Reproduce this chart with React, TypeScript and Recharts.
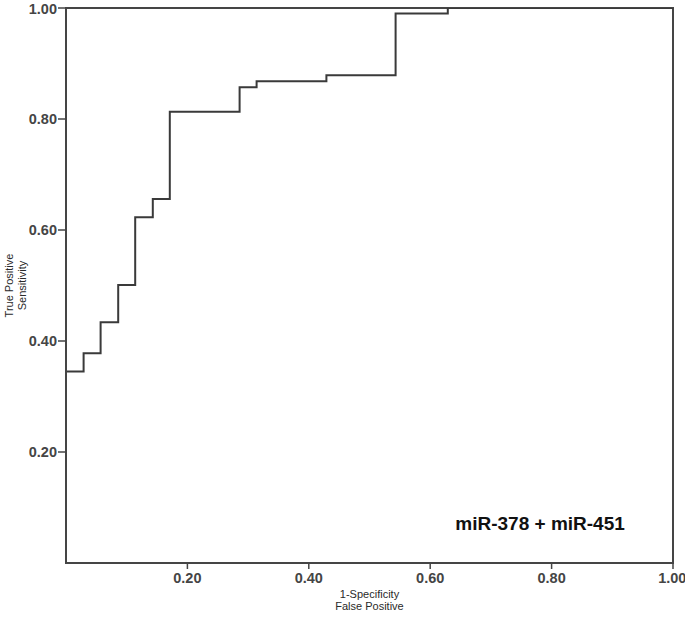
import React from "react";
import {
  LineChart,
  Line,
  XAxis,
  YAxis,
  ReferenceArea,
  ReferenceDot,
  Label,
} from "recharts";

// ROC curve points (1 - specificity, sensitivity)
const fpr = [0, 0, 0.029, 0.057, 0.086, 0.114, 0.143, 0.171, 0.286, 0.314, 0.429, 0.543, 0.629, 1.0];
const tpr = [0, 0.345, 0.378, 0.434, 0.501, 0.623, 0.656, 0.813, 0.857, 0.868, 0.879, 0.99, 1.0, 1.0];
const axisTicks = [0.2, 0.4, 0.6, 0.8, 1.0];
const xTitle = ["1-Specificity", "False Positive"];
const yTitle = ["True Positive", "Sensitivity"];
const caption = "miR-378 + miR-451";

const data = fpr.map((x, i) => ({ fpr: x, tpr: tpr[i] }));

const INK = "#454545";
const tickStyle = { fontSize: 14.5, fontWeight: "bold", fill: INK };

const XTitle = (props: any) => {
  const { x, y, width } = props.viewBox;
  const cx = x + width / 2;
  return (
    <text textAnchor="middle" fontSize={11} fill="#2a2a2a">
      <tspan x={cx} y={y + 35}>{xTitle[0]}</tspan>
      <tspan x={cx} dy={11.5}>{xTitle[1]}</tspan>
    </text>
  );
};

const YTitle = (props: any) => {
  const { y, height } = props.viewBox;
  const cx = 12.5;
  const cy = y + height / 2;
  return (
    <text textAnchor="middle" fontSize={11} fill="#2a2a2a" transform={`rotate(-90, ${cx}, ${cy})`}>
      <tspan x={cx} y={cy}>{yTitle[0]}</tspan>
      <tspan x={cx} dy={13.5}>{yTitle[1]}</tspan>
    </text>
  );
};

export default function App() {
  return (
    <div style={{ position: "absolute", left: 0, top: 0, fontFamily: "'Liberation Sans', Arial, sans-serif" }}>
      <LineChart
        width={685}
        height={620}
        data={data}
        margin={{ top: 8, right: 12, left: 0, bottom: 0 }}
      >
        <XAxis
          dataKey="fpr"
          type="number"
          domain={[0, 1]}
          ticks={axisTicks}
          tickFormatter={(v: number) => v.toFixed(2)}
          height={57}
          tickSize={6}
          tickMargin={4}
          tick={tickStyle}
          axisLine={{ stroke: INK, strokeWidth: 2 }}
          tickLine={{ stroke: INK, strokeWidth: 1.5 }}
          allowDataOverflow
        >
          <Label content={XTitle} />
        </XAxis>
        <YAxis
          type="number"
          domain={[0, 1]}
          ticks={axisTicks}
          tickFormatter={(v: number) => v.toFixed(2)}
          width={66}
          tickSize={8}
          tickMargin={1}
          tick={tickStyle}
          axisLine={{ stroke: INK, strokeWidth: 2 }}
          tickLine={{ stroke: INK, strokeWidth: 1.5 }}
          allowDataOverflow
        >
          <Label content={YTitle} />
        </YAxis>
        <ReferenceArea
          x1={0}
          x2={1}
          y1={0}
          y2={1}
          fill="none"
          fillOpacity={0}
          stroke={INK}
          strokeWidth={2}
        />
        <Line
          dataKey="tpr"
          type="stepAfter"
          stroke="#3a3a3a"
          strokeWidth={2}
          dot={false}
          activeDot={false}
          isAnimationActive={false}
        />
        <ReferenceDot
          x={0.781}
          y={0.072}
          r={0}
          stroke="none"
          fill="none"
          label={{
            value: caption,
            position: "center",
            fontSize: 19,
            fontWeight: "bold",
            fill: "#111",
          }}
        />
      </LineChart>
    </div>
  );
}
